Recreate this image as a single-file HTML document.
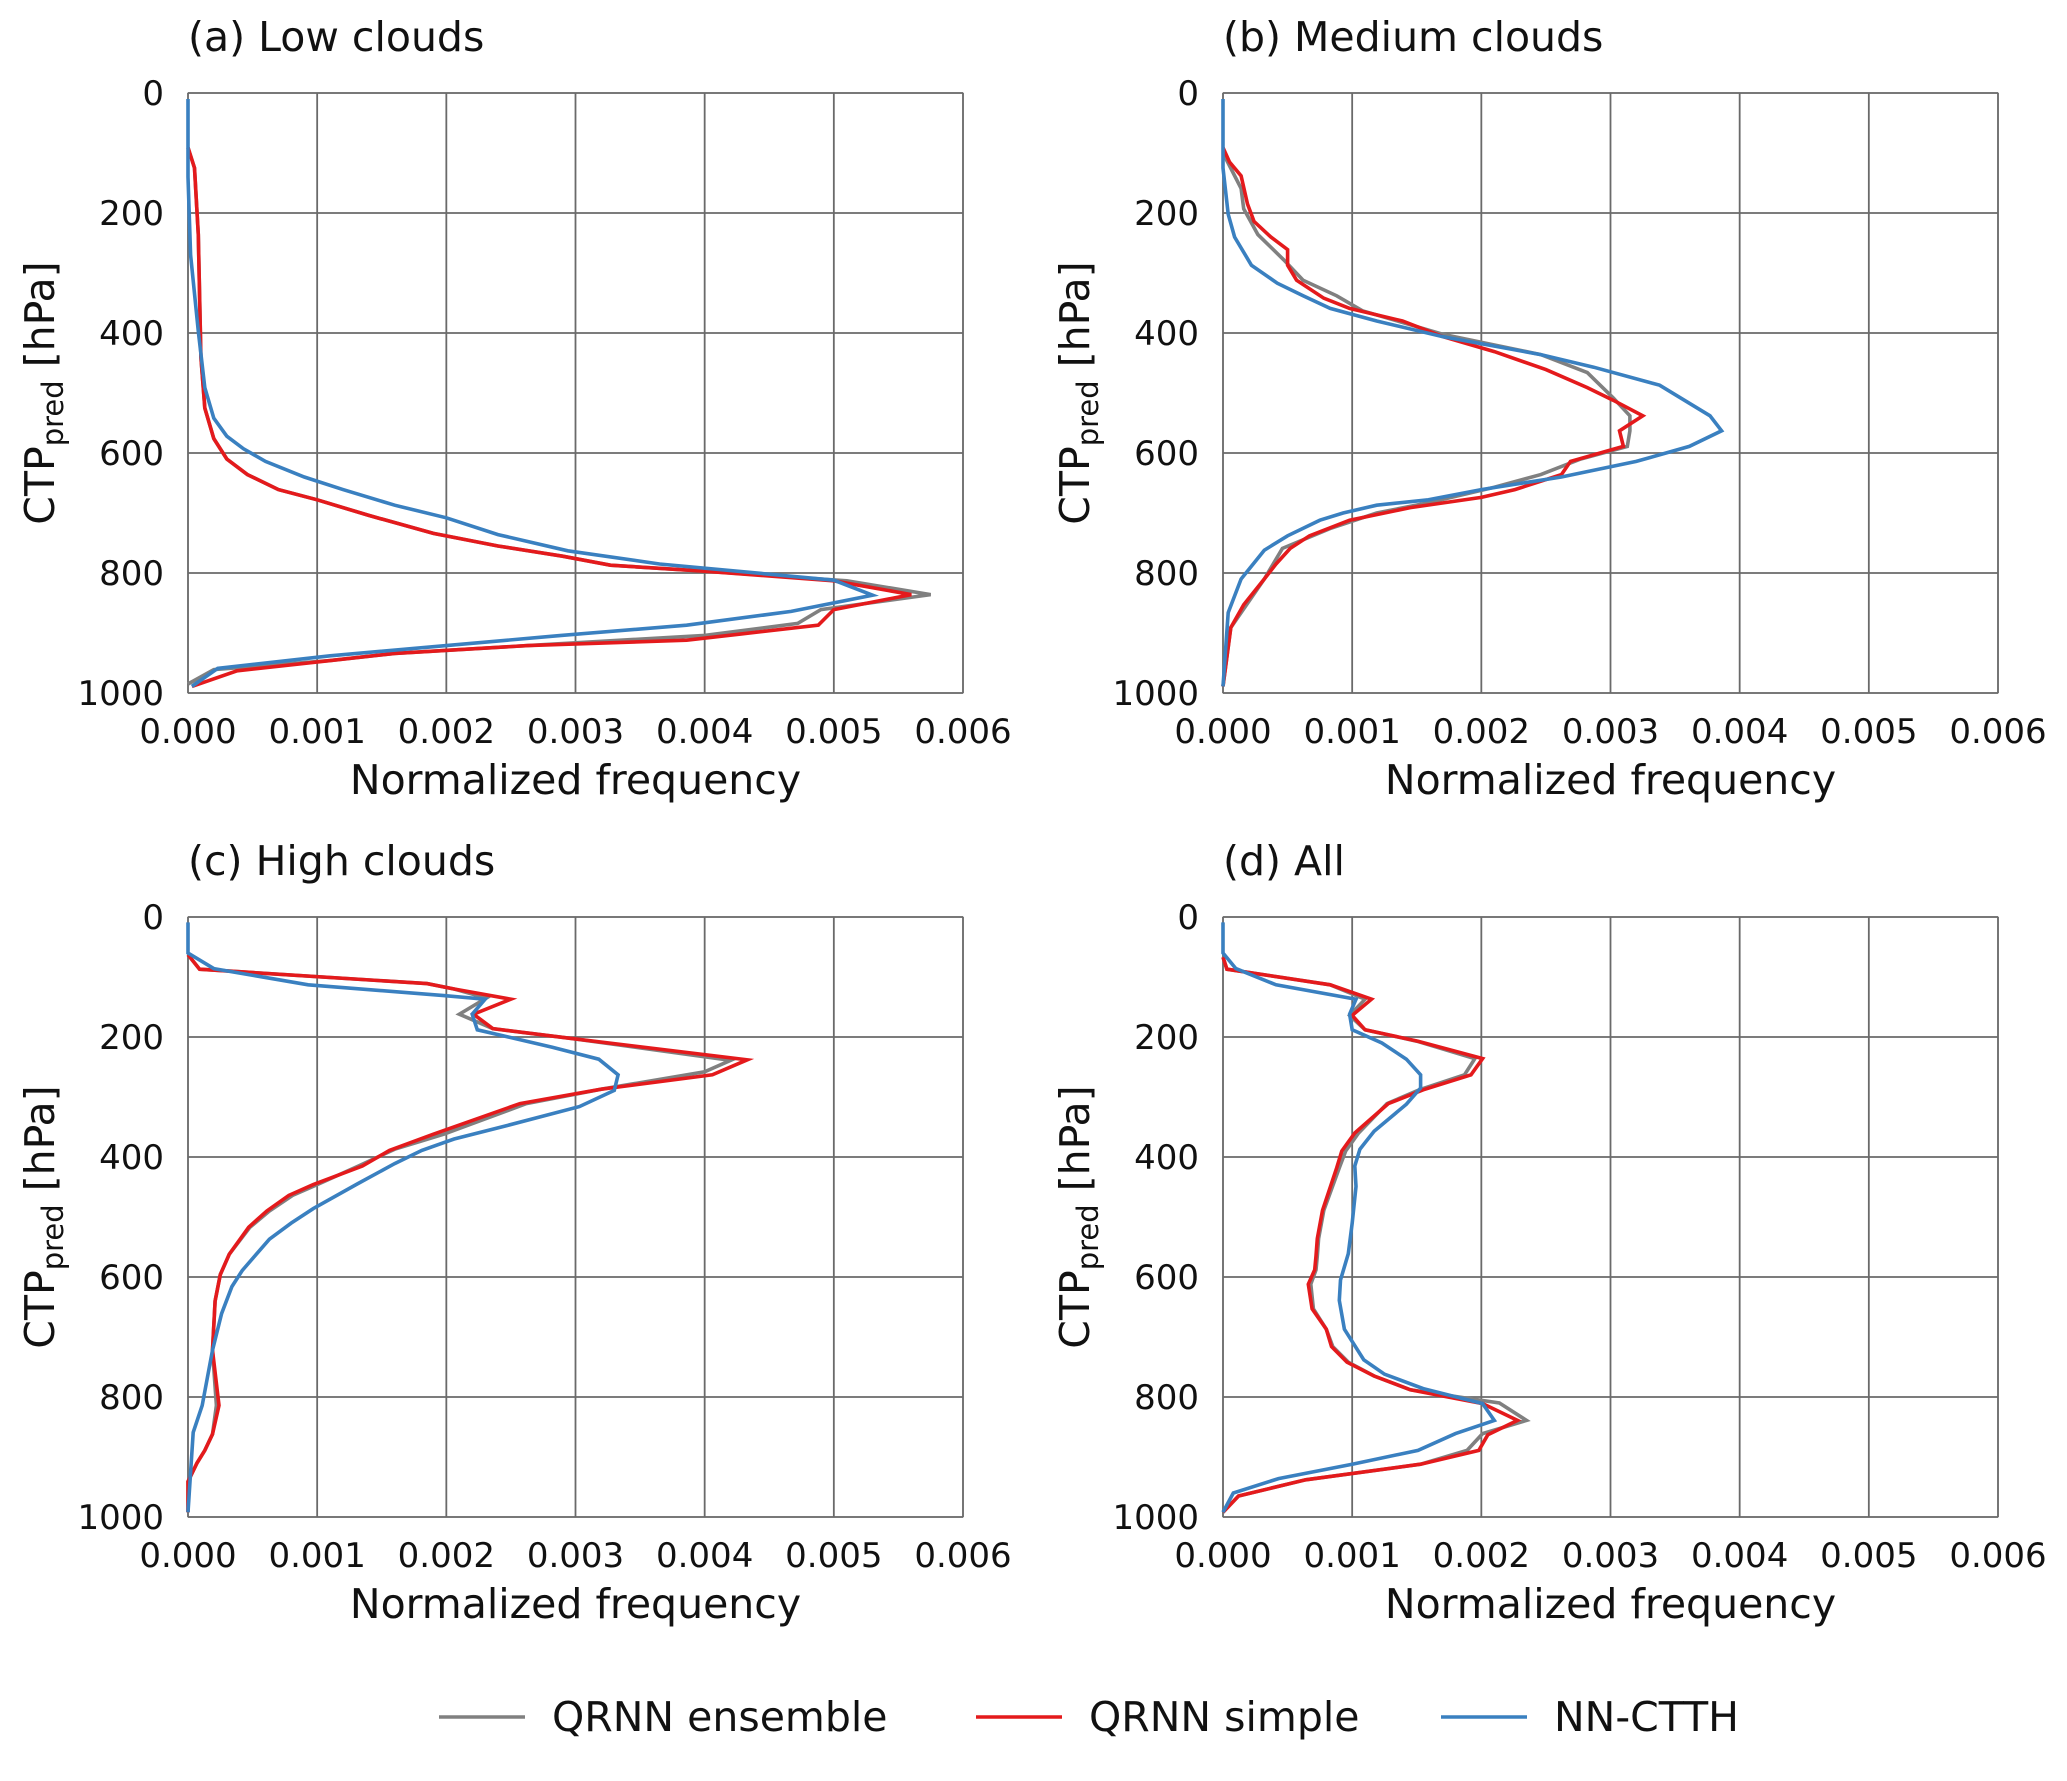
<!DOCTYPE html>
<html><head><meta charset="utf-8">
<style>
html,body{margin:0;padding:0;background:#fff;}
svg{display:block;font-family:"DejaVu Sans","Liberation Sans",sans-serif;}
</style></head>
<body>
<svg id="chart" width="2067" height="1781" viewBox="0 0 2067 1781" xmlns="http://www.w3.org/2000/svg"></svg>
<script>
const xTicks = [0, 0.001, 0.002, 0.003, 0.004, 0.005, 0.006];
const xTickLabels = ["0.000","0.001","0.002","0.003","0.004","0.005","0.006"];
const yTicks = [0, 200, 400, 600, 800, 1000];
const yTickLabels = ["0","200","400","600","800","1000"];
const seriesNames = ["QRNN ensemble","QRNN simple","NN-CTTH"];
const panelTitles = ["(a) Low clouds","(b) Medium clouds","(c) High clouds","(d) All"];

// panel a: [pressure hPa, frequency]
const aEnsP = [91,125,236,440,525,576,610,636,661,678,704,734,755,772,787,797,813,836,861,884,904,921,934,946,961,985];
const aEnsV = [0,0.00005,0.00008,0.0001,0.00013,0.0002,0.0003,0.00046,0.0007,0.001,0.0014,0.0019,0.0024,0.0029,0.00327,0.004,0.0051,0.00575,0.0049,0.00472,0.004,0.00263,0.0016,0.0011,0.0002,0];
const aSimP = [91,125,236,440,525,576,610,636,661,678,704,734,755,772,787,797,813,836,861,887,912,921,934,946,963,989];
const aSimV = [0,0.00005,0.00008,0.0001,0.00013,0.0002,0.0003,0.00046,0.0007,0.001,0.0014,0.0019,0.0024,0.0029,0.00327,0.004,0.005,0.0056,0.005,0.00488,0.00386,0.00263,0.0016,0.0011,0.00038,0.00003];
const aNnP = [10,140,270,397,491,542,572,593,614,640,661,687,708,736,763,785,812,837,864,887,904,921,938,959,989];
const aNnV = [0,0,0.00002,0.00008,0.00013,0.0002,0.0003,0.00043,0.0006,0.0009,0.0012,0.0016,0.002,0.0024,0.00294,0.00365,0.005,0.0053,0.00467,0.00386,0.00289,0.002,0.0011,0.00023,0.00003];

// panel b
const bEnsP = [100,159,193,236,278,312,338,363,402,436,466,508,538,563,589,610,636,657,683,700,725,759,810,891,989];
const bEnsV = [0,0.00014,0.00016,0.00027,0.00047,0.00062,0.00088,0.00108,0.0017,0.00246,0.00282,0.00302,0.00315,0.00315,0.00313,0.00277,0.00246,0.0021,0.00159,0.00119,0.00084,0.00046,0.00032,0.00006,0];
const bSimP = [91,115,138,185,214,240,261,287,312,342,359,380,406,431,461,491,512,538,563,589,614,636,661,674,691,712,738,759,785,810,853,891,989];
const bSimV = [0,0.00005,0.00014,0.00019,0.00024,0.00037,0.0005,0.0005,0.00057,0.00078,0.00098,0.00139,0.0017,0.0021,0.0025,0.00282,0.00302,0.00325,0.00307,0.0031,0.00269,0.00262,0.00226,0.002,0.00145,0.00098,0.00067,0.00052,0.00041,0.00032,0.00016,0.00006,0];
const bNnP = [10,125,202,240,287,317,338,359,380,406,436,457,487,538,563,589,614,640,661,678,687,700,712,738,762,810,866,989];
const bNnV = [0,0,0.00004,0.00009,0.00022,0.00042,0.00062,0.00083,0.00119,0.0017,0.00246,0.00287,0.00338,0.00377,0.00386,0.00361,0.0032,0.00262,0.002,0.00159,0.00119,0.00093,0.00075,0.0005,0.00032,0.00014,0.00004,0];

// panel c
const cEnsP = [63,87,111,120,135,162,186,203,239,258,287,311,362,387,415,446,464,490,517,562,596,640,722,814,862,889,910,941,992];
const cEnsV = [0,0.00009,0.00185,0.00206,0.00231,0.0021,0.00236,0.00299,0.0042,0.004,0.0032,0.00262,0.00198,0.0016,0.00132,0.001,0.00081,0.00063,0.00048,0.00032,0.00025,0.00021,0.00019,0.00022,0.00019,0.00013,0.00007,0,0];
const cSimP = [63,87,111,120,137,162,186,203,238,263,287,311,362,389,415,446,464,490,517,562,596,640,722,814,862,889,910,941,992];
const cSimV = [0,0.00009,0.00185,0.00206,0.0025,0.00221,0.00236,0.00299,0.00433,0.00406,0.0032,0.00257,0.0019,0.00156,0.00135,0.00097,0.00078,0.00061,0.00047,0.00032,0.00025,0.00021,0.00019,0.00024,0.00019,0.00013,0.00007,0,0];
const cNnP = [9,60,86,113,131,137,162,188,200,217,237,263,289,316,347,370,389,411,445,486,510,537,589,616,661,722,814,859,992];
const cNnV = [0,0,0.0002,0.00093,0.00198,0.0023,0.0022,0.00224,0.00248,0.00282,0.00318,0.00333,0.0033,0.00303,0.00248,0.00206,0.00181,0.0016,0.00131,0.00097,0.0008,0.00063,0.00042,0.00034,0.00026,0.00019,0.00011,0.00004,0];

// panel d
const dEnsP = [67,87,113,137,164,188,207,236,263,288,311,360,390,418,489,536,565,588,612,653,687,716,742,765,788,810,839,861,889,912,938,965,992];
const dEnsV = [0,0.00003,0.00083,0.0011,0.00098,0.0011,0.0015,0.00195,0.00187,0.00152,0.00127,0.00105,0.00095,0.0009,0.00078,0.00074,0.00073,0.00072,0.00068,0.0007,0.0008,0.00085,0.00097,0.00117,0.00145,0.00214,0.00235,0.00201,0.00189,0.00153,0.00064,0.00012,0];
const dSimP = [67,87,113,137,164,188,207,236,263,288,311,360,390,418,489,536,565,588,612,653,687,716,742,765,788,811,839,863,889,912,938,965,992];
const dSimV = [0,0.00003,0.00083,0.00115,0.001,0.0011,0.00151,0.00201,0.00192,0.00155,0.00128,0.00102,0.00092,0.00088,0.00077,0.00073,0.00072,0.00071,0.00066,0.00069,0.0008,0.00084,0.00096,0.00117,0.00145,0.00201,0.00228,0.00205,0.00198,0.00153,0.00064,0.00012,0];
const dNnP = [9,60,86,113,137,162,188,210,237,263,285,312,357,387,415,449,510,561,605,639,687,738,762,786,811,839,861,889,912,936,960,992];
const dNnV = [0,0,0.0001,0.00041,0.00103,0.00098,0.001,0.00123,0.00142,0.00153,0.00153,0.00142,0.00117,0.00106,0.00102,0.00103,0.001,0.00097,0.00091,0.0009,0.00094,0.00109,0.00125,0.00155,0.00201,0.0021,0.0018,0.00151,0.001,0.00043,0.00008,0];

const NS = "http://www.w3.org/2000/svg";
const svg = document.getElementById("chart");
function mk(tag, attrs, parent){
  const e = document.createElementNS(NS, tag);
  for (const k in attrs) e.setAttribute(k, attrs[k]);
  (parent||svg).appendChild(e);
  return e;
}
const colors = ["#808080","#e41a1c","#3a80c0"];
const panels = [
  {x0:188, y0:93, series:[[aEnsP,aEnsV],[aSimP,aSimV],[aNnP,aNnV]]},
  {x0:1223, y0:93, series:[[bEnsP,bEnsV],[bSimP,bSimV],[bNnP,bNnV]]},
  {x0:188, y0:917, series:[[cEnsP,cEnsV],[cSimP,cSimV],[cNnP,cNnV]]},
  {x0:1223, y0:917, series:[[dEnsP,dEnsV],[dSimP,dSimV],[dNnP,dNnV]]}
];
const W = 775, H = 600;
panels.forEach((p, i) => {
  const g = mk("g", {});
  
  
  const sx = v => p.x0 + v / 0.006 * W;
  const sy = v => p.y0 + v / 1000 * H;
  const frame = mk("rect", {x:p.x0, y:p.y0, width:W, height:H, fill:"none", stroke:"#bdbdbd", "stroke-width":1.5}, g);
  
  
  xTicks.forEach((t, k) => {
    const gl = mk("line", {x1:sx(t), x2:sx(t), y1:p.y0, y2:p.y0+H, stroke:"#6a6a6a", "stroke-width":1.8}, g);
    
    
    const tl = mk("text", {x:sx(t), y:p.y0+H+50, "font-size":34, "text-anchor":"middle", fill:"#111"}, g);
    tl.textContent = xTickLabels[k];
    
    
  });
  yTicks.forEach((t, k) => {
    const gl = mk("line", {x1:p.x0, x2:p.x0+W, y1:sy(t), y2:sy(t), stroke:"#6a6a6a", "stroke-width":1.8}, g);
    
    
    const tl = mk("text", {x:p.x0-24, y:sy(t)+12, "font-size":34, "text-anchor":"end", fill:"#111"}, g);
    tl.textContent = yTickLabels[k];
    
    
  });
  p.series.forEach((s, j) => {
    const [P, V] = s;
    const pts = P.map((pp, k) => sx(V[k]).toFixed(1) + "," + sy(pp).toFixed(1)).join(" ");
    const pl = mk("polyline", {points:pts, fill:"none", stroke:colors[j], "stroke-width":3.6, "stroke-linejoin":"miter"}, g);
    
    
  });
  const tt = mk("text", {x:p.x0, y:p.y0-42, "font-size":41, fill:"#111"}, g);
  tt.textContent = panelTitles[i];
  
  
  const xl = mk("text", {x:p.x0+W/2, y:p.y0+H+101, "font-size":41, "text-anchor":"middle", fill:"#111"}, g);
  xl.textContent = "Normalized frequency";
  
  
  const yl = mk("text", {x:0, y:0, "font-size":41, "text-anchor":"middle", fill:"#111", transform:"translate(" + (p.x0-134) + "," + (p.y0+H/2) + ") rotate(-90)"}, g);
  
  
  const t1 = mk("tspan", {}, yl); t1.textContent = "CTP";
  const t2 = mk("tspan", {"font-size":29, dy:9}, yl); t2.textContent = "pred";
  const t3 = mk("tspan", {dy:-9}, yl); t3.textContent = " [hPa]";
});
// legend
const legX = [439, 976, 1441];
const lg = mk("g", {});


seriesNames.forEach((n, j) => {
  const ln = mk("line", {x1:legX[j], x2:legX[j]+86, y1:1717, y2:1717, stroke:colors[j], "stroke-width":3.6}, lg);
  
  
  const tx = mk("text", {x:legX[j]+113, y:1731, "font-size":41, fill:"#111"}, lg);
  tx.textContent = n;
  
  
});
</script>
</body></html>
